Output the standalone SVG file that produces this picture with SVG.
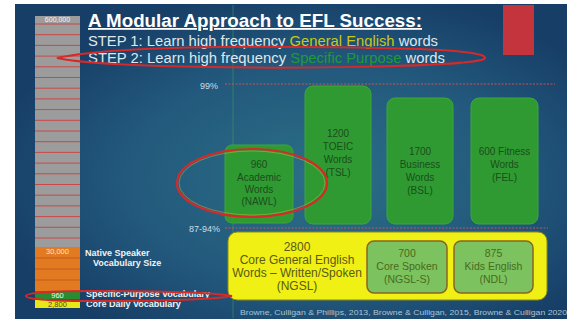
<svg xmlns="http://www.w3.org/2000/svg" width="567" height="322" viewBox="0 0 567 322">
<defs>
<radialGradient id="bg" cx="0.55" cy="0.55" r="0.6">
<stop offset="0" stop-color="#2b6f86"/>
<stop offset="0.6" stop-color="#22587c"/>
<stop offset="1" stop-color="#173e66"/>
</radialGradient>
<style>
.t{font-family:"Liberation Sans",Arial,sans-serif}
.gbox{fill:#2f9a32;stroke:#3aa83a;stroke-width:1}
.gtx{font-family:"Liberation Sans",Arial,sans-serif;font-size:10px;fill:#1a4e1c;text-anchor:middle}
.ytx{font-family:"Liberation Sans",Arial,sans-serif;font-size:12px;fill:#5a5a12;text-anchor:middle}
.lbox{fill:#7cc25e;stroke:#8a6420;stroke-width:1.5}
.ltx{font-family:"Liberation Sans",Arial,sans-serif;font-size:10.5px;fill:#4a6a20;text-anchor:middle}
.rl{stroke:#c84848;stroke-width:1}
.dash{stroke:#d05050;stroke-width:1.2;stroke-dasharray:2 1.5}
.lab{font-family:"Liberation Sans",Arial,sans-serif;font-size:9px;font-weight:bold;fill:#f2f2f2}
.ring{fill:none;stroke:#d42a2a;stroke-width:2}
</style>
</defs>
<rect width="567" height="322" fill="#ffffff"/>
<rect x="15" y="4" width="552" height="315" fill="url(#bg)"/>
<line x1="233" y1="5" x2="233" y2="318" stroke="#3fa060" stroke-width="0.8" opacity="0.7"/>
<rect id="redblock" x="503" y="5" width="31" height="50" fill="#c4343c"/>

<g id="vocab-bar">
<rect x="35" y="16" width="45" height="231" fill="#9c9c9c"/>
<g class="rl">
<line x1="35" y1="24" x2="80" y2="24"/><line x1="35" y1="34.7" x2="80" y2="34.7"/><line x1="35" y1="45.4" x2="80" y2="45.4"/><line x1="35" y1="56.1" x2="80" y2="56.1"/><line x1="35" y1="66.8" x2="80" y2="66.8"/><line x1="35" y1="77.5" x2="80" y2="77.5"/><line x1="35" y1="88.2" x2="80" y2="88.2"/><line x1="35" y1="98.9" x2="80" y2="98.9"/><line x1="35" y1="109.6" x2="80" y2="109.6"/><line x1="35" y1="120.3" x2="80" y2="120.3"/><line x1="35" y1="131" x2="80" y2="131"/><line x1="35" y1="141.7" x2="80" y2="141.7"/><line x1="35" y1="152.4" x2="80" y2="152.4"/><line x1="35" y1="163.1" x2="80" y2="163.1"/><line x1="35" y1="173.8" x2="80" y2="173.8"/><line x1="35" y1="184.5" x2="80" y2="184.5"/><line x1="35" y1="195.2" x2="80" y2="195.2"/><line x1="35" y1="205.9" x2="80" y2="205.9"/><line x1="35" y1="216.6" x2="80" y2="216.6"/><line x1="35" y1="227.3" x2="80" y2="227.3"/><line x1="35" y1="238" x2="80" y2="238"/>
</g>
<rect x="35" y="247" width="45" height="44" fill="#e27a22"/>
<g stroke="#c85a1a" stroke-width="1">
<line x1="35" y1="258" x2="80" y2="258"/><line x1="35" y1="269" x2="80" y2="269"/><line x1="35" y1="280" x2="80" y2="280"/>
</g>
<rect x="35" y="291" width="45" height="8.5" fill="#2a8c30"/>
<rect x="35" y="300" width="45" height="8" fill="#e8e818"/>
<text class="t" x="57.5" y="22" font-size="7" fill="#f4f4f4" text-anchor="middle">600,000</text>
<text class="t" x="57.5" y="254" font-size="7.5" fill="#fbe6c8" text-anchor="middle">30,000</text>
<text class="t" x="57.5" y="298" font-size="7.5" fill="#eaffea" text-anchor="middle">960</text>
<text class="t" x="57.5" y="307" font-size="7.5" fill="#5a4a10" text-anchor="middle">2,800</text>
<text class="lab" x="85" y="256">Native Speaker</text>
<text class="lab" x="93" y="266">Vocabulary Size</text>
<text class="lab" x="86" y="297">Specific-Purpose Vocabulary</text>
<text class="lab" x="86" y="307">Core Daily Vocabulary</text>
</g>

<g id="title">
<text class="t" x="88" y="27" font-size="18" font-weight="bold" fill="#ffffff" text-decoration="underline" textLength="334" lengthAdjust="spacingAndGlyphs">A Modular Approach to EFL Success:</text>
<text class="t" x="88" y="46" font-size="14" fill="#dfe8ee" textLength="350" lengthAdjust="spacingAndGlyphs">STEP 1: Learn high frequency <tspan fill="#c8c81a">General English</tspan> words</text>
<text class="t" x="88" y="63" font-size="14" fill="#dfe8ee" textLength="357" lengthAdjust="spacingAndGlyphs">STEP 2: Learn high frequency <tspan fill="#1f9a3a">Specific Purpose</tspan> words</text>
</g>

<g id="levels">
<text class="t" x="218" y="89" font-size="9" fill="#cfdde6" text-anchor="end">99%</text>
<line class="dash" x1="225" y1="84" x2="555" y2="84"/>
<text class="t" x="220" y="232" font-size="9" fill="#cfdde6" text-anchor="end">87-94%</text>
<line class="dash" x1="225" y1="228" x2="548" y2="228"/>
</g>

<g id="nawl">
<rect class="gbox" x="225" y="145" width="68" height="78" rx="7"/>
<text class="gtx" x="259" y="168">960</text>
<text class="gtx" x="259" y="181">Academic</text>
<text class="gtx" x="259" y="193">Words</text>
<text class="gtx" x="259" y="205">(NAWL)</text>
</g>
<g id="tsl">
<rect class="gbox" x="305" y="86" width="66" height="138" rx="8"/>
<text class="gtx" x="338" y="137">1200</text>
<text class="gtx" x="338" y="150">TOEIC</text>
<text class="gtx" x="338" y="163">Words</text>
<text class="gtx" x="338" y="176">(TSL)</text>
</g>
<g id="bsl">
<rect class="gbox" x="387" y="98" width="66" height="126" rx="8"/>
<text class="gtx" x="420" y="155">1700</text>
<text class="gtx" x="420" y="168">Business</text>
<text class="gtx" x="420" y="181">Words</text>
<text class="gtx" x="420" y="194">(BSL)</text>
</g>
<g id="fel">
<rect class="gbox" x="471" y="98" width="67" height="126" rx="8"/>
<text class="gtx" x="504.5" y="155">600 Fitness</text>
<text class="gtx" x="504.5" y="168">Words</text>
<text class="gtx" x="504.5" y="181">(FEL)</text>
</g>

<g id="ngsl">
<rect x="228" y="232" width="319" height="68" rx="9" fill="#f0f014" stroke="#8a8a20" stroke-width="1"/>
<text class="ytx" x="297" y="251">2800</text>
<text class="ytx" x="297" y="264">Core General English</text>
<text class="ytx" x="297" y="277">Words – Written/Spoken</text>
<text class="ytx" x="297" y="290">(NGSL)</text>
</g>
<g id="ngsl-s">
<rect class="lbox" x="367" y="241" width="80" height="52" rx="7"/>
<text class="ltx" x="407" y="257">700</text>
<text class="ltx" x="407" y="270">Core Spoken</text>
<text class="ltx" x="407" y="283">(NGSL-S)</text>
</g>
<g id="ndl">
<rect class="lbox" x="454" y="241" width="79" height="52" rx="7"/>
<text class="ltx" x="493.5" y="257">875</text>
<text class="ltx" x="493.5" y="270">Kids English</text>
<text class="ltx" x="493.5" y="283">(NDL)</text>
</g>

<g id="highlights">
<path class="ring" d="M57,58 C120,44 300,46 420,49 C470,51 490,55 484,59 C470,66 300,70 160,66 C100,64 70,61 57,58 Z"/>
<ellipse cx="252" cy="183" rx="75" ry="34" fill="none" stroke="#d42a2a" stroke-width="2.2"/>
<ellipse cx="252" cy="183" rx="73" ry="32" fill="none" stroke="#e0c030" stroke-width="0.6" opacity="0.7"/>
<path class="ring" d="M232,296 C210,292 150,291 90,291 C50,291 26,293 26,296 C26,299 50,301 90,301 C150,301 210,300 232,296 Z"/>
</g>

<text id="citation" class="t" x="240" y="315" font-size="8" fill="#aac4d8" textLength="327" lengthAdjust="spacingAndGlyphs">Browne, Culligan &amp; Phillips, 2013, Browne &amp; Culligan, 2015, Browne &amp; Culligan 2020</text>
</svg>
